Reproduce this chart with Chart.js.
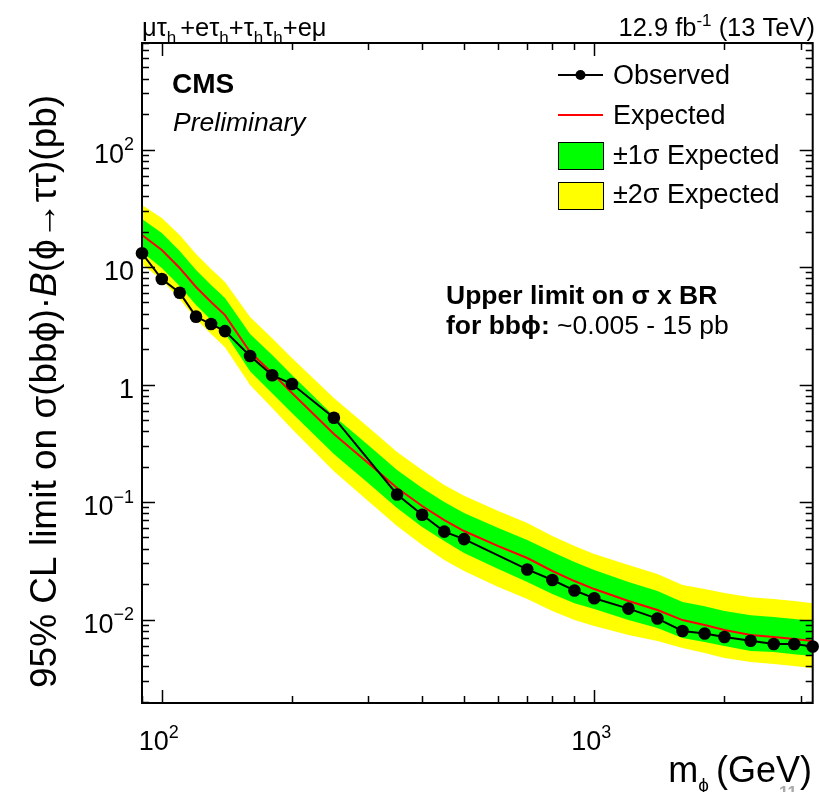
<!DOCTYPE html>
<html>
<head>
<meta charset="utf-8">
<script src="https://cdn.jsdelivr.net/npm/chart.js@4"></script>
<style>
  html, body { margin: 0; padding: 0; background: #fff; }
  canvas { display: block; }
</style>
</head>
<body>
<canvas id="c" width="819" height="792"></canvas>
<script>
// Mass points (GeV) of the expected limit and its bands
const masses = [90, 100, 110, 120, 130, 140, 160, 180, 200, 250, 300, 350, 400, 450, 500,
                600, 700, 800, 900, 1000, 1200, 1400, 1600, 1800, 2000, 2300, 2600, 2900, 3200];
// Median expected limit (pb)
const expected = [18.7, 13.95, 9.8, 6.76, 5.04, 3.90, 1.89, 1.25, 0.847, 0.379, 0.215, 0.1316, 0.0925, 0.0703, 0.0567,
                  0.0422, 0.0334, 0.0259, 0.02127, 0.01818, 0.01437, 0.01205, 0.0099, 0.00898, 0.00814, 0.00738, 0.0071, 0.00682, 0.00656];
// +-1 sigma band
const band1Up = [25.6, 19.5, 13.7, 9.43, 7.03, 5.44, 2.69, 1.78, 1.205, 0.539, 0.306, 0.187, 0.132, 0.100, 0.0807,
                 0.0601, 0.0475, 0.0376, 0.0309, 0.0264, 0.0209, 0.0175, 0.0141, 0.0130, 0.0118, 0.0109, 0.0105, 0.0101, 0.00971];
const band1Down = [13.4, 9.81, 6.89, 4.75, 3.54, 2.74, 1.30, 0.845, 0.573, 0.256, 0.145, 0.0890, 0.0613, 0.0466, 0.0369,
                   0.0269, 0.0209, 0.0165, 0.0138, 0.0123, 0.00990, 0.00847, 0.00696, 0.00644, 0.00595, 0.00539, 0.00529, 0.00508, 0.00489];
// +-2 sigma band
const band2Up = [33.7, 26.1, 18.7, 12.9, 9.62, 7.45, 3.75, 2.48, 1.68, 0.767, 0.435, 0.266, 0.187, 0.140, 0.113,
                 0.0838, 0.0663, 0.0514, 0.0422, 0.0361, 0.0291, 0.0244, 0.0197, 0.0182, 0.0168, 0.0155, 0.0150, 0.0144, 0.0138];
const band2Down = [10.6, 7.76, 5.34, 3.61, 2.69, 2.08, 0.990, 0.630, 0.418, 0.183, 0.102, 0.0625, 0.0431, 0.0321, 0.0259,
                   0.0189, 0.0150, 0.0118, 0.00991, 0.00880, 0.00739, 0.00657, 0.00572, 0.00519, 0.00470, 0.00435, 0.00418, 0.00402, 0.00386];
// Observed limit
const obsMasses = [90, 100, 110, 120, 130, 140, 160, 180, 200, 250, 350, 400, 450, 500,
                   700, 800, 900, 1000, 1200, 1400, 1600, 1800, 2000, 2300, 2600, 2900, 3200];
const observed = [13.1, 7.9, 6.04, 3.78, 3.27, 2.85, 1.75, 1.2, 1.01, 0.522, 0.116, 0.078, 0.056, 0.0484,
                  0.0267, 0.0217, 0.0177, 0.0152, 0.0124, 0.0102, 0.0080, 0.0076, 0.0071, 0.0066, 0.0062, 0.0062, 0.0059];

// Axis labels (base + exponent)
const yTickValues = [0.01, 0.1, 1, 10, 100];
const yTickBase = ['10', '10', '1', '10', '10'];
const yTickExp = ['\u22122', '\u22121', '', '', '2'];
const xTickValues = [100, 1000];
const xTickBase = ['10', '10'];
const xTickExp = ['2', '3'];

const FONT = '"Liberation Sans", Arial, Helvetica, sans-serif';
const pts = (xs, ys) => xs.map((x, i) => ({ x: x, y: ys[i] }));
const none = 'rgba(0,0,0,0)';

function drawRuns(ctx, runs, x, y) {
  let cx = x;
  for (const r of runs) {
    ctx.font = r.f;
    ctx.fillText(r.t, cx, y + (r.dy || 0));
    cx += ctx.measureText(r.t).width + (r.gap || 0);
  }
  return cx - x;
}
function runsWidth(ctx, runs) {
  let w = 0;
  for (const r of runs) { ctx.font = r.f; w += ctx.measureText(r.t).width + (r.gap || 0); }
  return w;
}
function powerLabel(base, exp, size) {
  const runs = [{ t: base, f: size + 'px ' + FONT }];
  if (exp) runs.push({ t: exp, f: Math.round(size * 0.68) + 'px ' + FONT, dy: -size * 0.45 });
  return runs;
}

const decor = {
  id: 'decor',
  afterDraw(chart) {
    const ctx = chart.ctx;
    const xs = chart.scales.x, ys = chart.scales.y;
    const a = chart.chartArea;
    ctx.save();
    ctx.fillStyle = '#000';
    ctx.strokeStyle = '#000';
    ctx.textBaseline = 'alphabetic';

    // tick marks on all four sides
    ctx.lineWidth = 1.5;
    for (let e = -3; e <= 3; e++) {
      for (let m = 1; m <= 9; m++) {
        const v = m * Math.pow(10, e);
        const len = m === 1 ? 13 : 7;
        if (v >= ys.min && v <= ys.max) {
          const py = Math.round(ys.getPixelForValue(v)) + 0.5;
          ctx.beginPath();
          ctx.moveTo(a.left, py); ctx.lineTo(a.left + len, py);
          ctx.moveTo(a.right, py); ctx.lineTo(a.right - len, py);
          ctx.stroke();
        }
        if (v >= xs.min && v <= xs.max) {
          const px = Math.round(xs.getPixelForValue(v)) + 0.5;
          ctx.beginPath();
          ctx.moveTo(px, a.bottom); ctx.lineTo(px, a.bottom - len);
          ctx.moveTo(px, a.top); ctx.lineTo(px, a.top + len);
          ctx.stroke();
        }
      }
    }
    // frame
    ctx.lineWidth = 2;
    ctx.strokeRect(a.left, a.top, a.right - a.left, a.bottom - a.top);

    // tick labels
    yTickValues.forEach((v, i) => {
      const runs = powerLabel(yTickBase[i], yTickExp[i], 27);
      const w = runsWidth(ctx, runs);
      drawRuns(ctx, runs, 134 - w, ys.getPixelForValue(v) + 13);
    });
    xTickValues.forEach((v, i) => {
      const runs = powerLabel(xTickBase[i], xTickExp[i], 27);
      const w = runsWidth(ctx, runs);
      drawRuns(ctx, runs, xs.getPixelForValue(v) - w / 2 - 3, 750);
    });

    // x axis title
    const xt = [
      { t: 'm', f: '36px ' + FONT },
      { t: '\u03D5', f: '19px ' + FONT, dy: 9, gap: 7 },
      { t: '(GeV)', f: '36px ' + FONT }
    ];
    drawRuns(ctx, xt, 812 - runsWidth(ctx, xt), 782);

    // y axis title (rotated)
    ctx.save();
    ctx.translate(56, 688);
    ctx.rotate(-Math.PI / 2);
    drawRuns(ctx, [
      { t: '95% CL limit on \u03C3(bb\u03D5)\u00B7', f: '37px ' + FONT },
      { t: 'B', f: 'italic 37px ' + FONT },
      { t: '(\u03D5\u2192\u03C4\u03C4)(pb)', f: '37px ' + FONT }
    ], 0, 0);
    ctx.restore();

    // header lines
    const sub = '17px ' + FONT, main = '25.5px ' + FONT;
    drawRuns(ctx, [
      { t: '\u03BC\u03C4', f: main },
      { t: 'h', f: sub, dy: 7, gap: 4 },
      { t: '+e\u03C4', f: main },
      { t: 'h', f: sub, dy: 7 },
      { t: '+\u03C4', f: main },
      { t: 'h', f: sub, dy: 7 },
      { t: '\u03C4', f: main },
      { t: 'h', f: sub, dy: 7 },
      { t: '+e\u03BC', f: main }
    ], 142, 36);
    const lumi = [
      { t: '12.9 fb', f: main },
      { t: '-1', f: sub, dy: -10 },
      { t: ' (13 TeV)', f: main }
    ];
    drawRuns(ctx, lumi, 815 - runsWidth(ctx, lumi), 36);

    // CMS label
    ctx.font = 'bold 28px ' + FONT;
    ctx.fillText('CMS', 172, 93);
    ctx.font = 'italic 26.5px ' + FONT;
    ctx.fillText('Preliminary', 173, 131);

    // summary text
    ctx.font = 'bold 26.5px ' + FONT;
    ctx.fillText('Upper limit on \u03C3 x BR', 446, 304);
    drawRuns(ctx, [
      { t: 'for bb\u03D5:', f: 'bold 26.5px ' + FONT },
      { t: ' ~0.005 - 15 pb', f: '26.5px ' + FONT }
    ], 446, 334);

    // legend
    ctx.lineWidth = 2;
    ctx.beginPath(); ctx.moveTo(558, 75); ctx.lineTo(603, 75); ctx.stroke();
    ctx.beginPath(); ctx.arc(580.5, 75, 5, 0, Math.PI * 2); ctx.fill();
    ctx.strokeStyle = '#ff0000';
    ctx.beginPath(); ctx.moveTo(558, 115); ctx.lineTo(603, 115); ctx.stroke();
    ctx.strokeStyle = '#000';
    ctx.lineWidth = 1;
    ctx.fillStyle = '#00ff00'; ctx.fillRect(558, 142, 45, 27);
    ctx.strokeRect(558.5, 142.5, 45, 27);
    ctx.fillStyle = '#ffff00'; ctx.fillRect(558, 182, 45, 27);
    ctx.strokeRect(558.5, 182.5, 45, 27);
    ctx.fillStyle = '#000';
    ctx.font = '27px ' + FONT;
    ctx.fillText('Observed', 613, 84);
    ctx.fillText('Expected', 613, 124);
    ctx.fillText('\u00B11\u03C3 Expected', 613, 164);
    ctx.fillText('\u00B12\u03C3 Expected', 613, 203);

    // slide page number
    ctx.fillStyle = '#a8a8a8';
    ctx.font = 'bold 17px ' + FONT;
    ctx.fillText('11', 779, 798);

    ctx.restore();
  }
};

new Chart(document.getElementById('c'), {
  type: 'line',
  data: {
    datasets: [
      { label: '+2 sigma', data: pts(masses, band2Up), borderColor: none, borderWidth: 0.01, pointRadius: 0,
        fill: '+1', backgroundColor: '#ffff00', order: 4 },
      { label: '-2 sigma', data: pts(masses, band2Down), borderColor: none, borderWidth: 0.01, pointRadius: 0,
        fill: false, order: 4 },
      { label: '+1 sigma', data: pts(masses, band1Up), borderColor: none, borderWidth: 0.01, pointRadius: 0,
        fill: '+1', backgroundColor: '#00ff00', order: 3 },
      { label: '-1 sigma', data: pts(masses, band1Down), borderColor: none, borderWidth: 0.01, pointRadius: 0,
        fill: false, order: 3 },
      { label: 'Expected', data: pts(masses, expected), borderColor: '#ff0000', borderWidth: 2, pointRadius: 0,
        fill: false, order: 2 },
      { label: 'Observed', data: pts(obsMasses, observed), borderColor: '#000', borderWidth: 2,
        pointRadius: 6.3, pointBackgroundColor: '#000', pointBorderWidth: 0, fill: false, order: 1, clip: false }
    ]
  },
  options: {
    responsive: false,
    animation: false,
    devicePixelRatio: 1,
    layout: { padding: { left: 142, top: 43, right: 1, bottom: 89 } },
    elements: { line: { tension: 0 } },
    plugins: { legend: { display: false }, tooltip: { enabled: false } },
    scales: {
      x: { type: 'logarithmic', min: 90, max: 3200, display: false },
      y: { type: 'logarithmic', min: 0.00195, max: 806, display: false }
    }
  },
  plugins: [decor]
});
</script>
</body>
</html>
